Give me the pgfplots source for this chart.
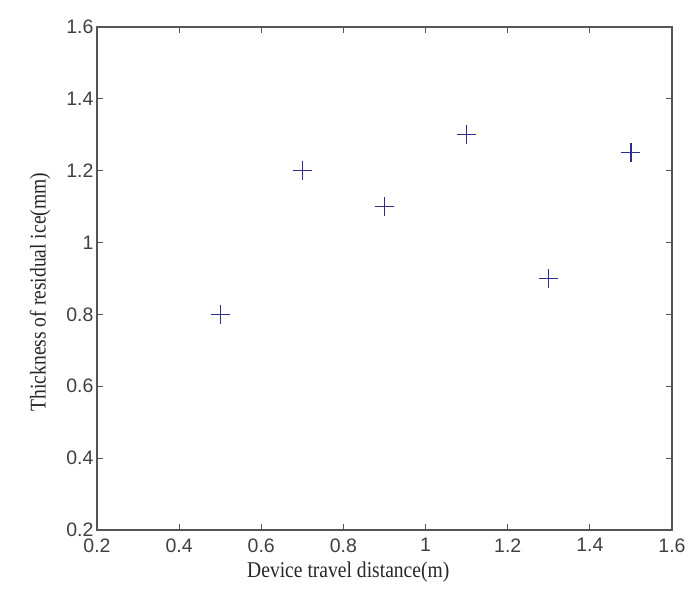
\documentclass[border=0pt]{standalone}
\usepackage{pgfplots}
\pgfplotsset{compat=1.18}
\usepackage{fontspec}
\setmainfont{Liberation Sans}
\newfontfamily\labelfont[FakeStretch=0.87]{Liberation Serif}
\definecolor{axgray}{RGB}{85,85,85}
\definecolor{mkblue}{RGB}{45,45,140}
\begin{document}
\begin{tikzpicture}
\useasboundingbox (-97pt,-66pt) rectangle (594pt,530pt);
\begin{axis}[
  at={(0,0)}, anchor=south west,
  scale only axis, width=575pt, height=503pt,
  xmin=0.2, xmax=1.6, ymin=0.2, ymax=1.6,
  xtick={0.2,0.4,0.6,0.8,1,1.2,1.4,1.6},
  ytick={0.2,0.4,0.6,0.8,1,1.2,1.4,1.6},
  xticklabels={0.2,0.4,0.6,0.8,1,1.2,1.4,1.6},
  yticklabels={0.2,0.4,0.6,0.8,1,1.2,1.4,1.6},
  tick align=inside, xtick pos=both, ytick pos=both,
  major tick length=6pt,
  axis line style={axgray, line width=1.2pt},
  every tick/.style={axgray, line width=1pt},
  tick label style={font=\fontsize{19.5}{22}\selectfont, text=black!75},
  xticklabel style={yshift=-5pt},
  /pgf/number format/assume math mode=true,
  xlabel={Device travel distance(m)},
  ylabel={Thickness of residual ice(mm)},
  xlabel style={font=\labelfont\fontsize{22.5}{24}\selectfont, text=black!85, at={(axis description cs:0.437,-0.0835)}, anchor=center},
  ylabel style={font=\labelfont\fontsize{22.5}{24}\selectfont, text=black!85, at={(axis description cs:-0.099,0.473)}, anchor=center},
]
\addplot[only marks, mark=+, mark size=9.5pt, mkblue, line width=1.3pt] coordinates {
  (0.5,0.8) (0.7,1.2) (0.9,1.1) (1.1,1.3) (1.3,0.9) (1.5,1.25)
};
\end{axis}
\end{tikzpicture}
\end{document}
